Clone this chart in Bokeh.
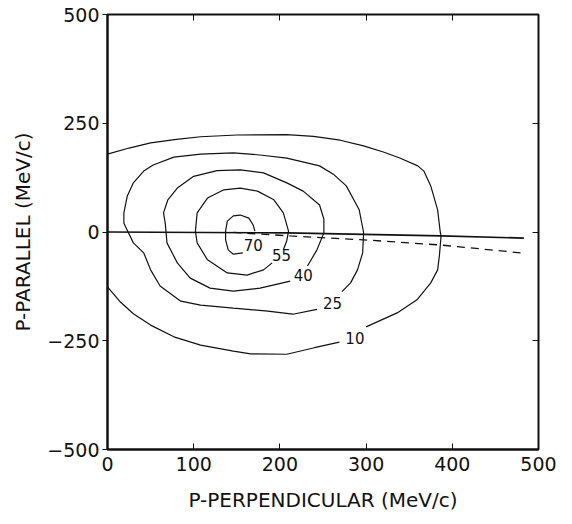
from bokeh.plotting import figure
from bokeh.models import LinearAxis, FixedTicker, Range1d, CustomJSTickFormatter
from bokeh.core.properties import value
from bokeh.embed import file_html
from bokeh.resources import INLINE

# ---- data ----
x_ticks = [0, 100, 200, 300, 400, 500]
y_ticks = [-500, -250, 0, 250, 500]

levels = ["10", "25", "40", "55", "70"]

c10_x = [0, 25, 50, 80, 108, 150, 208, 239, 270, 297, 320, 339, 360, 367, 375, 383, 386,
         387, 385, 383, 375, 359, 336, 318, 300]
c10_y = [179, 193, 205, 213, 219, 223, 224, 220, 211, 198, 184, 170, 152, 140, 106, 51, 0,
         -9, -55, -87, -117, -156, -186, -202, -218]
c10b_x = [269, 240, 208, 166, 146, 108, 77, 50, 30, 15, 0]
c10b_y = [-253, -266, -281, -280, -274, -260, -241, -214, -188, -161, -126]

c25_x = [243, 215, 186, 146, 108, 85, 61, 50, 42, 30, 19, 19, 23, 30, 42, 53, 77, 108,
         146, 177, 208, 246, 262, 277, 292, 297, 297, 296, 290, 282, 272]
c25_y = [-178, -189, -182, -175, -168, -159, -124, -87, -48, -25, 20, 44, 83, 113, 140, 154,
         172, 179, 182, 177, 170, 152, 133, 106, 51, 0, -7, -48, -87, -117, -137]

c40_x = [232, 243, 251, 251, 246, 227, 208, 181, 154, 127, 100, 81, 70, 65, 67, 69, 81, 96,
         119, 146, 177, 212]
c40_y = [-78, -41, -2, 30, 62, 94, 113, 136, 143, 141, 128, 101, 74, 44, 20, -25, -71, -106,
         -129, -136, -129, -113]

c55_x = [204, 208, 210, 204, 193, 174, 154, 135, 116, 104, 102, 104, 116, 139, 162, 181, 191]
c55_y = [-41, -20, 2, 44, 74, 94, 101, 97, 78, 44, 2, -25, -64, -94, -99, -87, -71]

c70_x = [171, 169, 164, 154, 146, 139, 137, 137, 140, 146, 157]
c70_y = [2, 16, 32, 39, 37, 25, 2, -18, -41, -51, -48]

label_x = [287, 261, 227, 202, 169]
label_y = [-244, -163, -99, -53, -30]

solid_x = [0, 208, 387, 483]
solid_y = [0, -2, -9, -14]

dash_x = [146, 212, 297, 387, 444, 480]
dash_y = [-1, -9, -18, -30, -41, -48]

# ---- figure ----
FONT = "DejaVu Sans"
INK = "#111111"

p = figure(width=572, height=524,
           x_range=Range1d(0, 500), y_range=Range1d(-500, 500),
           output_backend="svg", toolbar_location=None,
           min_border_left=107, min_border_right=34, min_border_top=14, min_border_bottom=75,
           background_fill_color="white", border_fill_color="white")
p.grid.visible = False
p.outline_line_color = INK
p.outline_line_width = 2

for xs, ys in [(c10_x, c10_y), (c10b_x, c10b_y), (c25_x, c25_y), (c40_x, c40_y),
               (c55_x, c55_y), (c70_x, c70_y)]:
    p.line(xs, ys, line_color=INK, line_width=1.2)

p.line(solid_x, solid_y, line_color=INK, line_width=1.6)
p.line(dash_x, dash_y, line_color=INK, line_width=1.3, line_dash="8 6")

p.text(x=label_x, y=label_y, text=levels, text_font=value(FONT), text_font_size="15px",
       text_align="center", text_baseline="middle", text_color=INK)

# bottom axis
xa = p.xaxis[0]
xa.ticker = FixedTicker(ticks=x_ticks)
xa.major_tick_in = 6
xa.major_tick_out = 0
xa.minor_tick_line_color = None
xa.axis_line_width = 2
xa.axis_line_color = INK
xa.major_tick_line_color = INK
xa.major_label_standoff = 7
xa.major_label_text_font = FONT
xa.major_label_text_font_size = "19px"
xa.major_label_text_color = INK
xa.axis_label = "P-PERPENDICULAR (MeV/c)"
xa.axis_label_text_font = FONT
xa.axis_label_text_font_size = "20px"
xa.axis_label_text_font_style = "normal"
xa.axis_label_text_color = INK
xa.axis_label_standoff = 14

# left axis
ya = p.yaxis[0]
ya.ticker = FixedTicker(ticks=y_ticks)
ya.major_tick_in = 0
ya.major_tick_out = 5
ya.minor_tick_line_color = None
ya.axis_line_width = 2
ya.axis_line_color = INK
ya.major_tick_line_color = INK
ya.major_label_standoff = 3
ya.major_label_text_font = FONT
ya.major_label_text_font_size = "19px"
ya.major_label_text_color = INK
ya.axis_label = "P-PARALLEL (MeV/c)"
ya.axis_label_text_font = FONT
ya.axis_label_text_font_size = "20px"
ya.axis_label_text_font_style = "normal"
ya.axis_label_text_color = INK
ya.axis_label_standoff = 9

# top and right tick-only axes
blank = CustomJSTickFormatter(code="return ''")
top = LinearAxis(ticker=FixedTicker(ticks=x_ticks[1:-1]), major_tick_in=6, major_tick_out=0,
                 minor_tick_line_color=None, axis_line_color=None, major_tick_line_color=INK,
                 formatter=blank, major_label_standoff=0)
right = LinearAxis(ticker=FixedTicker(ticks=y_ticks[1:-1]), major_tick_in=6, major_tick_out=0,
                   minor_tick_line_color=None, axis_line_color=None, major_tick_line_color=INK,
                   formatter=blank, major_label_standoff=0)
p.add_layout(top, "above")
p.add_layout(right, "right")

open("out.html", "w").write(file_html(p, INLINE))
